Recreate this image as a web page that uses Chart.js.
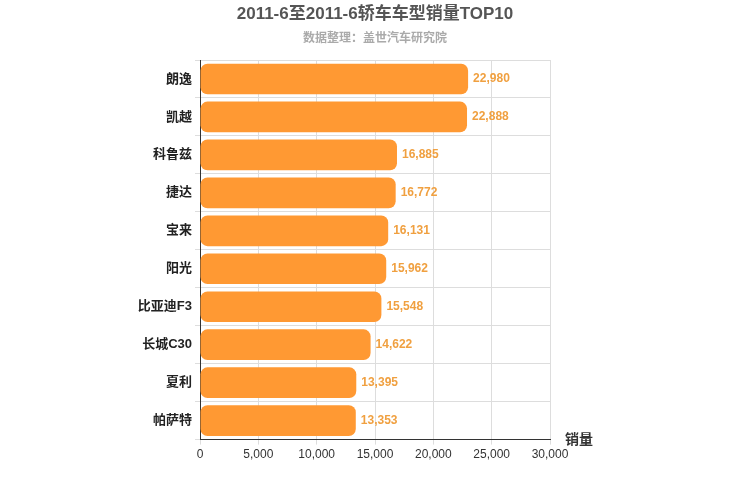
<!DOCTYPE html>
<html><head><meta charset="utf-8">
<script src="https://cdn.jsdelivr.net/npm/chart.js@4"></script>
<style>body{margin:0;background:#fff}#w{width:750px;height:500px}</style>
</head><body><div id="w"><canvas id="c"></canvas></div>
<script>
const categories = ["朗逸","凯越","科鲁兹","捷达","宝来","阳光","比亚迪F3","长城C30","夏利","帕萨特"];
const sales = [22980,22888,16885,16772,16131,15962,15548,14622,13395,13353];
const xTicks = [0,5000,10000,15000,20000,25000,30000];
const FONT = "'Liberation Sans', 'Noto Sans CJK SC', sans-serif";
const labelPlugin = {
  id:'lbl',
  afterDatasetsDraw(chart){
    const ctx=chart.ctx, meta=chart.getDatasetMeta(0);
    ctx.save();
    ctx.font="bold 12px "+FONT; ctx.fillStyle="#f0a040"; ctx.textBaseline="middle";
    meta.data.forEach((b,i)=>{ctx.fillText(sales[i].toLocaleString('en-US'), b.x+5, b.y);});
    ctx.font="bold 14px "+FONT; ctx.fillStyle="#333"; ctx.textAlign="left";
    const a=chart.scales.x;
    ctx.fillText("销量", a.right+15, a.top+1);
    ctx.textAlign="center";
    ctx.font="bold 17px "+FONT; ctx.fillStyle="#555";
    ctx.fillText("2011-6至2011-6轿车车型销量TOP10", 375, 14);
    ctx.font="bold 12px "+FONT; ctx.fillStyle="#aaa";
    ctx.fillText("数据整理：盖世汽车研究院", 375, 39);
    ctx.restore();
  }
};
new Chart(document.getElementById('c'),{
  type:'bar',
  data:{labels:categories,datasets:[{data:sales,backgroundColor:'#ff9933',borderColor:'#ff9933',borderRadius:7,borderSkipped:false,categoryPercentage:0.85,barPercentage:0.95}]},
  options:{
    indexAxis:'y',responsive:true,maintainAspectRatio:false,animation:false,
    layout:{padding:{left:0,right:200,top:60,bottom:35}},
    plugins:{legend:{display:false},tooltip:{enabled:false},title:{display:false}},
    scales:{
      x:{min:0,max:30000,afterBuildTicks(a){a.ticks=xTicks.map(v=>({value:v}));},
        ticks:{color:'#333',font:{family:FONT,size:12},callback:v=>v.toLocaleString('en-US')},
        grid:{color:'#ddd',drawTicks:true,tickLength:5},border:{color:'#333'}},
      y:{afterFit(s){s.width=200;},ticks:{color:'#222',font:{family:FONT,size:13,weight:'bold'}},
        grid:{color:'#ddd',offset:true,tickLength:5},border:{color:'#333'}}
    }
  },
  plugins:[labelPlugin]
});
</script></body></html>
